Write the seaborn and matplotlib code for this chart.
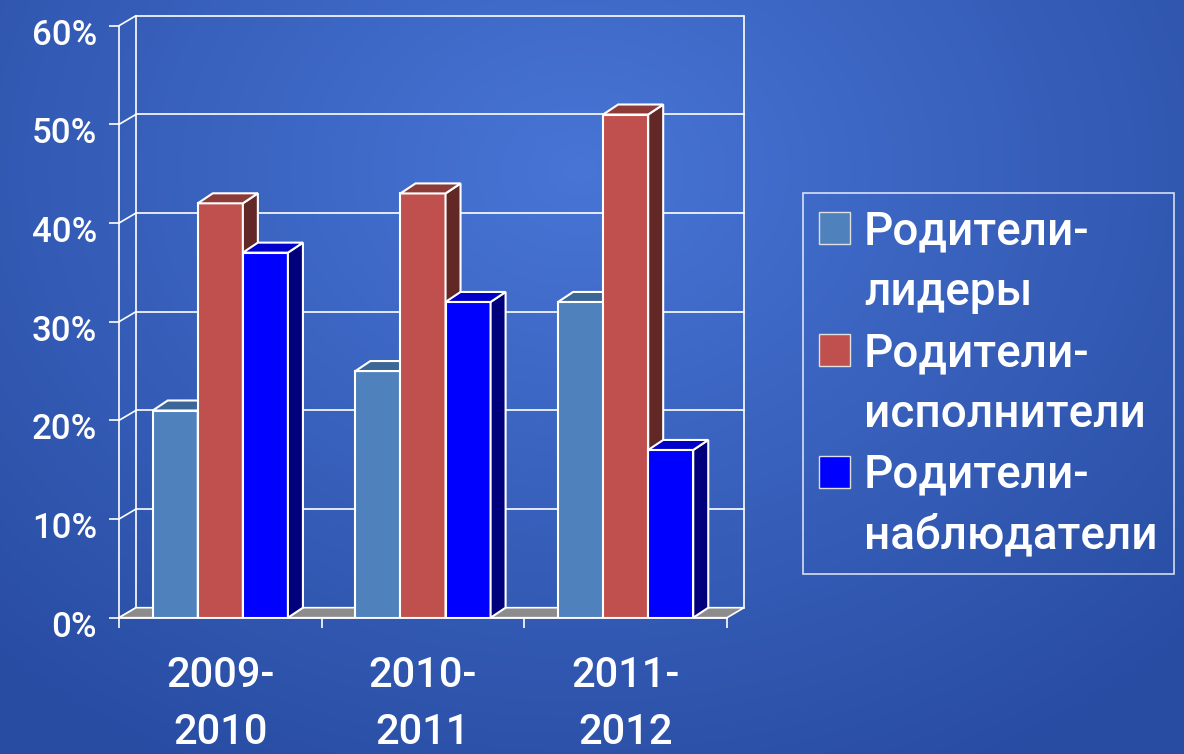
import numpy as np
import pandas as pd
import matplotlib
matplotlib.use("Agg")
import matplotlib.pyplot as plt
import seaborn as sns
from matplotlib.patches import Polygon, Patch
from matplotlib.transforms import ScaledTranslation

# chart data
years = ["2009-\n2010", "2010-\n2011", "2011-\n2012"]
groups = ["Родители-лидеры", "Родители-исполнители", "Родители-наблюдатели"]
leaders = [21, 25, 32]
performers = [42, 43, 51]
observers = [37, 32, 17]
yticks = [0, 10, 20, 30, 40, 50, 60]

front_colors = ["#4f81bd", "#c0504d", "#0000ff"]
top_colors = ["#3c6696", "#8c3b39", "#0000c8"]
side_colors = ["#2e4e76", "#622826", "#00007c"]

W, H = 1184, 754

df = pd.DataFrame({
    "year": years * 3,
    "group": np.repeat(groups, 3),
    "value": leaders + performers + observers,
})

sns.set_theme(style="white")
plt.rcParams["font.family"] = ["Roboto", "DejaVu Sans"]
plt.rcParams["font.weight"] = "medium"

fig = plt.figure(figsize=(W / 100, H / 100), dpi=100)

# blue radial gradient background
yy, xx = np.mgrid[0:H, 0:W]
dist = np.sqrt((xx - 580) ** 2 + ((yy - 170) * 1.25) ** 2)
t = np.clip(dist / 850, 0, 1)[..., None]
inner = np.array([72, 117, 214]) / 255
outer = np.array([40, 76, 162]) / 255
img = inner * (1 - t) + outer * t
bg = fig.add_axes([0, 0, 1, 1], zorder=-5)
bg.imshow(img, aspect="auto")
bg.axis("off")

# front plane of the plot
ax = fig.add_axes([119 / W, (H - 617.7) / H, 608 / W, 592 / H])
ax.patch.set_alpha(0)
sns.barplot(data=df, x="year", y="value", hue="group", hue_order=groups,
            palette=front_colors, saturation=1, width=0.667,
            edgecolor="white", linewidth=1.5, legend=False, ax=ax)
ax.set_xlim(-0.5, 2.5)
ax.set_ylim(0, 60)

# pixel offsets for the fake 3D depth, converted to data units
xs = 3 / 608
ys = 60 / 592
wdx, wdy = 17 * xs, 10 * ys
bdx, bdy = 15 * xs, 10 * ys

# back wall, side wall and floor
for v in yticks:
    ax.plot([-0.5 + wdx, 2.5 + wdx], [v + wdy, v + wdy], color="white", lw=1.2, zorder=1, clip_on=False)
    ax.plot([-0.5, -0.5 + wdx], [v, v + wdy], color="white", lw=1.2, zorder=1, clip_on=False)
for x in [-0.5 + wdx, 2.5 + wdx]:
    ax.plot([x, x], [wdy, 60 + wdy], color="white", lw=1.2, zorder=1, clip_on=False)
floor = Polygon([(-0.5, 0), (2.5, 0), (2.5 + wdx, wdy), (-0.5 + wdx, wdy)],
                closed=True, facecolor="#8c8c8c", edgecolor="white", lw=1.2,
                zorder=1.5, clip_on=False)
ax.add_patch(floor)

# 3D tops and sides of each bar
bars = [b for b in ax.patches if b is not floor]
n = len(years)
for i, bar in enumerate(bars):
    k = i // n
    z = 3 + k * 0.3
    bar.set_zorder(z)
    x0, w, h = bar.get_x(), bar.get_width(), bar.get_height()
    top = Polygon([(x0, h), (x0 + w, h), (x0 + w + bdx, h + bdy), (x0 + bdx, h + bdy)],
                  closed=True, facecolor=top_colors[k], edgecolor="white", lw=1.5,
                  zorder=z + 0.1, clip_on=False)
    side = Polygon([(x0 + w, 0), (x0 + w + bdx, bdy), (x0 + w + bdx, h + bdy), (x0 + w, h)],
                   closed=True, facecolor=side_colors[k], edgecolor="white", lw=1.5,
                   zorder=z + 0.1, clip_on=False)
    ax.add_patch(side)
    ax.add_patch(top)

# axes styling
for s in ["top", "right"]:
    ax.spines[s].set_visible(False)
for s in ["left", "bottom"]:
    ax.spines[s].set_color("white")
    ax.spines[s].set_linewidth(1.2)
    ax.spines[s].set_zorder(2)
ax.set_yticks(yticks)
ax.set_yticklabels([f"{v}%" for v in yticks])
ax.set_xticks([-0.5, 0.5, 1.5, 2.5], minor=True)
ax.tick_params(axis="y", colors="white", labelsize=25, length=7.2, width=1.2, pad=8.6, left=True)
ax.tick_params(axis="x", which="major", length=0, labelsize=30, labelcolor="white", pad=27)
ax.tick_params(axis="x", which="minor", bottom=True, length=7.2, width=1.2, color="white")
for lab in ax.get_xticklabels():
    lab.set_linespacing(1.5)
for lab in ax.get_yticklabels():
    lab.set_transform(lab.get_transform() + ScaledTranslation(0, -0.06, fig.dpi_scale_trans))
ax.set_xlabel("")
ax.set_ylabel("")

# legend: two lines per entry, handle on the first line
handles, labels = [], []
for g, c in zip(groups, front_colors):
    first, second = g.split("-")
    handles.append(Patch(facecolor=c, edgecolor="#e0e0e0", lw=1))
    labels.append(first + "-")
    handles.append(Patch(facecolor="none", edgecolor="none"))
    labels.append(second)
leg = fig.legend(handles, labels, loc="upper left", bbox_to_anchor=(803 / W, 1 - 193 / H),
                 fontsize=33, frameon=True, fancybox=False, edgecolor="white",
                 facecolor="none", labelcolor="white", handlelength=0.68,
                 handleheight=0.68, handletextpad=0.3, labelspacing=0.37,
                 borderpad=0.35, borderaxespad=0)
leg.get_frame().set_linewidth(1.2)

fig.savefig("out.png", dpi=100)
